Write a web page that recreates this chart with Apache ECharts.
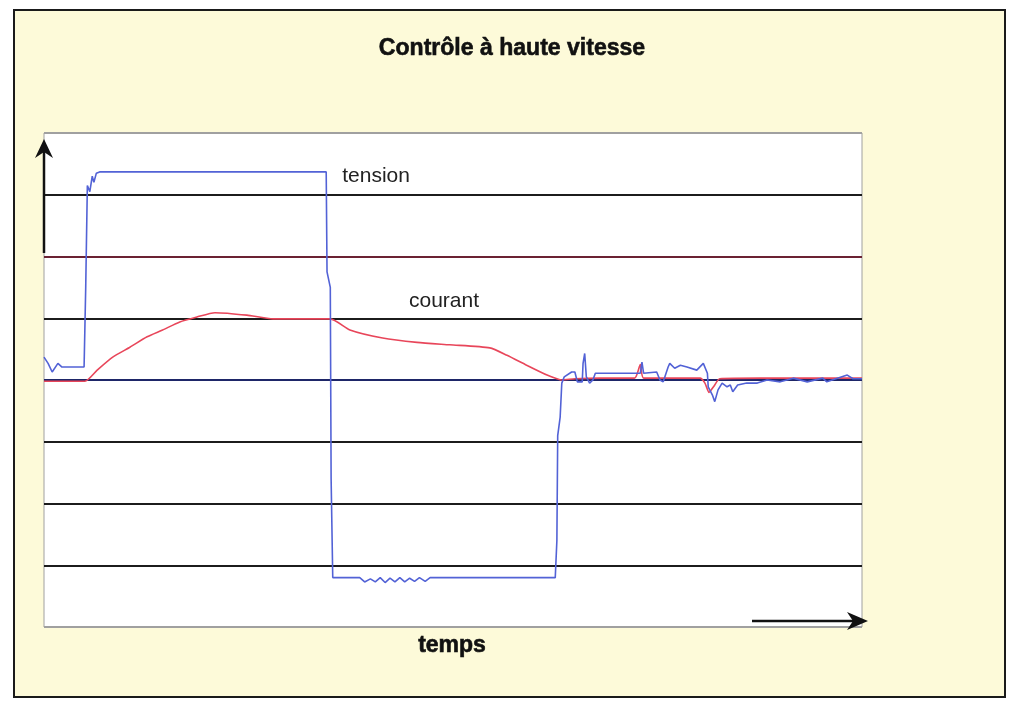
<!DOCTYPE html>
<html>
<head>
<meta charset="utf-8">
<title>Contrôle à haute vitesse</title>
<script src="https://cdn.jsdelivr.net/npm/echarts@6/dist/echarts.min.js"></script>
<style>
  html, body { margin: 0; padding: 0; background: #fff; }
  #chart { width: 1014px; height: 701px; }
</style>
</head>
<body>
<div id="chart"></div>
<script>
// temps (0..100) et valeurs
var tensionT = [0, 0.5, 1.0, 1.7, 2.2, 4.9, 5.1, 5.3, 5.6, 5.9, 6.1, 6.4, 6.8, 34.5, 34.6, 35.0, 35.1, 35.3,
  38.6, 39.2, 39.9, 40.5, 41.1, 41.7, 42.3, 42.9, 43.5, 44.1, 44.7, 45.3, 45.9, 46.6, 47.2, 48.0, 62.5,
  62.7, 62.8, 63.1, 63.3, 63.6, 64.5, 64.9, 65.2, 65.8, 65.9, 66.1, 66.3, 66.7, 67.1, 67.4, 72.9, 73.1,
  73.3, 74.9, 75.3, 75.7, 76.3, 76.5, 77.1, 77.8, 78.6, 79.8, 80.6, 81.1, 81.2, 81.7, 82.0, 82.4, 82.9,
  83.5, 83.9, 84.2, 84.8, 85.9, 87.2, 88.4, 90.0, 91.6, 93.3, 95.2, 95.7, 98.2, 98.9, 100];
var tensionV = [0.37, 0.27, 0.13, 0.27, 0.21, 0.21, 1.5, 3.15, 3.05, 3.3, 3.2, 3.35, 3.37, 3.37, 1.75, 1.5, -1.6, -3.2,
  -3.2, -3.27, -3.22, -3.27, -3.2, -3.28, -3.21, -3.27, -3.2, -3.27, -3.21, -3.26, -3.2, -3.26, -3.2, -3.2, -3.2,
  -2.6, -0.9, -0.6, -0.05, 0.05, 0.13, 0.13, -0.03, -0.03, 0.27, 0.43, 0.05, -0.05, 0.0, 0.11, 0.11, 0.29,
  0.11, 0.13, 0.0, -0.03, 0.21, 0.27, 0.19, 0.24, 0.21, 0.16, 0.27, 0.11, -0.11, -0.24, -0.35, -0.16, -0.05,
  -0.11, -0.08, -0.19, -0.08, -0.05, -0.05, 0.0, -0.03, 0.03, -0.03, 0.03, -0.03, 0.08, 0.02, 0.02];

var courantT = [0, 5.0, 6.5, 8.4, 10.5, 12.6, 14.5, 16.6, 18.7, 20.9, 24.8, 28.0, 35.0, 37.4, 41.4, 45.6, 49.6,
  54.5, 56.6, 59.0, 61.5, 62.7, 63.3, 64.9, 68.0, 72.2, 72.9, 73.3, 80.2, 80.8, 81.3, 81.9, 82.6, 87.5, 100];
var courantV = [-0.02, -0.02, 0.16, 0.37, 0.53, 0.7, 0.81, 0.94, 1.02, 1.09, 1.05, 0.99, 0.99, 0.81, 0.68, 0.61, 0.57,
  0.52, 0.4, 0.24, 0.08, 0.02, 0.0, 0.02, 0.03, 0.03, 0.25, 0.03, 0.03, -0.05, -0.2, -0.1, 0.02, 0.03, 0.03];

var yTicks = [-4, -3, -2, -1, 0, 1, 2, 3, 4];
var gridColors = ['#a0a0a0', '#1c1c1c', '#1c1c1c', '#1c1c1c', '#1e2668', '#1c1c1c', '#6b2233', '#1c1c1c', '#a0a0a0'];

function pairs(t, v) {
  return t.map(function (x, i) { return [x, v[i]]; });
}

var chart = echarts.init(document.getElementById('chart'));
var sans = '"Liberation Sans", Arial, sans-serif';

chart.setOption({
  animation: false,
  backgroundColor: '#ffffff',
  grid: {
    left: 44, right: 152, top: 133, bottom: 74,
    show: true, backgroundColor: '#ffffff', borderColor: '#a0a0a0', borderWidth: 1
  },
  xAxis: {
    type: 'value', min: 0, max: 100,
    axisLine: { show: false }, axisTick: { show: false }, axisLabel: { show: false },
    splitLine: { show: false }
  },
  yAxis: {
    type: 'value', min: yTicks[0], max: yTicks[yTicks.length - 1], interval: 1,
    axisLine: { show: false }, axisTick: { show: false }, axisLabel: { show: false },
    splitLine: { show: true, lineStyle: { color: gridColors, width: 2 } }
  },
  graphic: [
    { type: 'rect', z: -10, shape: { x: 14, y: 10, width: 991, height: 687 },
      style: { fill: '#fdfad9', stroke: '#1a1a1a', lineWidth: 2 } },
    { type: 'text', z: 10, x: 512, y: 48, scaleX: 0.96,
      style: { text: 'Contrôle à haute vitesse', fill: '#111', font: 'bold 24px ' + sans,
        textAlign: 'center', textVerticalAlign: 'middle', stroke: '#111', lineWidth: 0.6 } },
    { type: 'text', z: 10, x: 452, y: 646,
      style: { text: 'temps', fill: '#111', font: 'bold 23px ' + sans,
        textAlign: 'center', textVerticalAlign: 'middle', stroke: '#111', lineWidth: 0.6 } },
    { type: 'line', z: 10, shape: { x1: 44, y1: 253, x2: 44, y2: 150 }, style: { stroke: '#111', lineWidth: 2.5 } },
    { type: 'polygon', z: 10, shape: { points: [[35, 158], [44, 139], [53, 158], [44, 152]] }, style: { fill: '#111' } },
    { type: 'line', z: 10, shape: { x1: 752, y1: 621, x2: 856, y2: 621 }, style: { stroke: '#111', lineWidth: 2.5 } },
    { type: 'polygon', z: 10, shape: { points: [[847, 612], [868, 621], [847, 630], [853, 621]] }, style: { fill: '#111' } }
  ],
  series: [
    {
      name: 'courant', type: 'line', showSymbol: false, z: 3, smooth: 0.2,
      data: pairs(courantT, courantV),
      lineStyle: { color: '#e8465a', width: 1.6 },
      markPoint: {
        symbol: 'circle', symbolSize: 0,
        label: { show: true, formatter: 'courant', color: '#222', fontSize: 21, fontFamily: sans },
        data: [{ coord: [48.9, 1.27] }]
      }
    },
    {
      name: 'tension', type: 'line', showSymbol: false, z: 4,
      data: pairs(tensionT, tensionV),
      lineStyle: { color: '#5262d6', width: 1.6 },
      markPoint: {
        symbol: 'circle', symbolSize: 0,
        label: { show: true, formatter: 'tension', color: '#222', fontSize: 21, fontFamily: sans },
        data: [{ coord: [40.6, 3.30] }]
      }
    }
  ]
});
</script>
</body>
</html>
